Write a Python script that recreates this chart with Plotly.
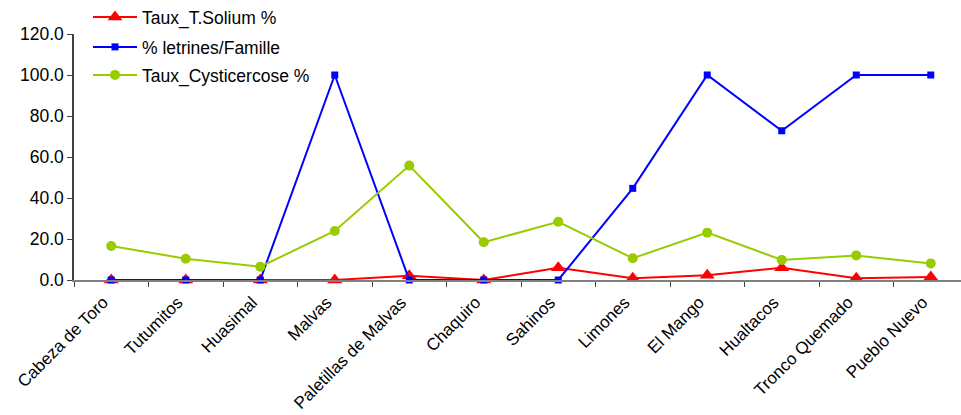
import plotly.graph_objects as go

categories = ["Cabeza de Toro", "Tutumitos", "Huasimal", "Malvas", "Paletillas de Malvas",
              "Chaquiro", "Sahinos", "Limones", "El Mango", "Hualtacos", "Tronco Quemado", "Pueblo Nuevo"]
solium = [0, 0, 0, 0, 2.1, 0, 6.0, 0.8, 2.3, 6.0, 0.8, 1.5]
letrines = [0, 0, 0, 100, 0, 0, 0, 44.7, 100, 72.8, 100, 100]
cystic = [16.6, 10.4, 6.5, 23.9, 55.8, 18.4, 28.4, 10.6, 23.1, 9.8, 12.0, 8.1]
y_ticks = [0, 20, 40, 60, 80, 100, 120]

FONT = "Liberation Sans, Arial, sans-serif"

fig = go.Figure()
fig.add_trace(go.Scatter(x=categories, y=solium, name="Taux_T.Solium %", mode="lines+markers",
                         line=dict(color="#FF0000", width=2),
                         marker=dict(symbol="triangle-up", size=13, color="#FF0000"),
                         cliponaxis=False, legend="legend"))
fig.add_trace(go.Scatter(x=categories, y=letrines, name="% letrines/Famille", mode="lines+markers",
                         line=dict(color="#0000FF", width=2),
                         marker=dict(symbol="square", size=7, color="#0000FF"),
                         cliponaxis=False, legend="legend2"))
fig.add_trace(go.Scatter(x=categories, y=cystic, name="Taux_Cysticercose %", mode="lines+markers",
                         line=dict(color="#99CC00", width=2),
                         marker=dict(symbol="circle", size=10, color="#99CC00"),
                         cliponaxis=False, legend="legend3"))

def leg(ypx):
    return dict(x=88 / 961, y=1 - ypx / 415, xref="container", yref="container",
                xanchor="left", yanchor="middle", bgcolor="rgba(0,0,0,0)",
                font=dict(family=FONT, size=17.5, color="#000000"), itemwidth=44)

fig.update_layout(
    width=961, height=415,
    margin=dict(l=74, r=0, t=34, b=135, autoexpand=False),
    paper_bgcolor="white", plot_bgcolor="white",
    font=dict(family=FONT, size=17, color="#000000"),
    showlegend=True,
    legend=leg(17), legend2=leg(47), legend3=leg(75),
    xaxis=dict(type="category", range=[-0.5, 11.406], showgrid=False, showline=True,
               linecolor="#808080", linewidth=1.5, ticks="outside", tickson="boundaries",
               ticklen=5, tickcolor="#404040", tickangle=-45, automargin=False,
               ticklabelstandoff=4, ticklabelshift=-8,
               tickfont=dict(family=FONT, size=17, color="#000000")),
    yaxis=dict(range=[0, 120], tickvals=y_ticks, tickformat=".1f", showgrid=False,
               showline=True, linecolor="#404040", linewidth=1.5, ticks="outside",
               ticklen=5, tickcolor="#404040", zeroline=False, automargin=False,
               tickfont=dict(family=FONT, size=17.5, color="#000000")),
)

fig.write_html("out.html")
